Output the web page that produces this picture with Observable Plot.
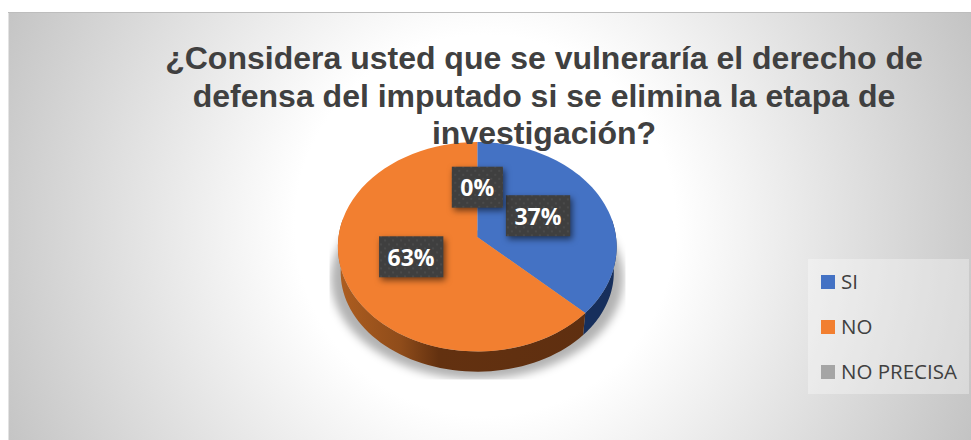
<!DOCTYPE html>
<html lang="es">
<head>
<meta charset="utf-8">
<script src="https://cdn.jsdelivr.net/npm/d3@7"></script>
<script src="https://cdn.jsdelivr.net/npm/@observablehq/plot@0.6"></script>
<style>
html,body{margin:0;padding:0;background:#fff;overflow:hidden}
#wrap{position:relative;width:971px;height:440px}
#wrap svg{display:block;position:absolute;left:0;top:0;background:transparent}
#title{position:absolute;left:144px;width:800px;top:40px;text-align:center;font:700 32px/37.5px "Liberation Sans",Arial,sans-serif;color:#404040;z-index:2}
#legend{position:absolute;left:808px;top:259px;width:161px;height:135px;background:rgba(255,255,255,.33);z-index:2;font:20.5px "Open Sans",sans-serif;color:#404040}
#legend div{position:absolute;left:13px;height:24px;line-height:24px;white-space:nowrap;padding-left:20px}
#legend i{position:absolute;left:0;top:6px;width:14px;height:14px}
</style>
</head>
<body>
<div id="wrap">
<div id="title">¿Considera usted que se vulneraría el derecho de<br>defensa del imputado si se elimina la etapa de<br>investigación?</div>
<div id="legend"></div>
</div>
<script>
const categories = ["SI", "NO", "NO PRECISA"];
const values = [37, 63, 0];
const colors = ["#4472C4", "#F27F30", "#A5A5A5"];
const sideColors = ["#172F5C", "url(#sideOrange)", "#6b6b6b"];
const labelRadius = [0.485, 0.51, 0.485];

const k = 0.0931;
const project = (a, r = 1) => {
  const u = r * Math.sin(a), v = -r * Math.cos(a), s = 1 / (1 - k * v);
  return {x: u * s, y: v * s};
};
const total = d3.sum(values);
let acc = 0;
const slices = categories.map((category, i) => {
  const a0 = acc / total * 2 * Math.PI;
  acc += values[i];
  const a1 = acc / total * 2 * Math.PI;
  return {category, value: values[i], a0, a1, i};
});
const steps = (a0, a1) => d3.range(0, 61).map(j => a0 + (a1 - a0) * j / 60);
const topFace = slices.filter(s => s.value > 0).flatMap(s =>
  [{x: 0, y: 0, category: s.category}, ...steps(s.a0, s.a1).map(a => ({...project(a), category: s.category}))]);
const lower = p => ({x: p.x * 0.98, y: p.y * 0.95 + 0.25});
const sidePoints = s => {
  const a0 = Math.max(s.a0, 80 * Math.PI / 180), a1 = Math.min(s.a1, 280 * Math.PI / 180);
  if (a1 <= a0) return [];
  const upper = steps(a0, a1).map(a => project(a));
  return [...upper, ...upper.slice().reverse().map(lower)];
};
const shadowFace = steps(0, 2 * Math.PI).map(a => {
  const p = project(a);
  return {x: p.x * 1.05, y: p.y * 0.96 + 0.31};
});
const labels = slices.map(s => {
  const mid = s.value > 0 ? (s.a0 + s.a1) / 2 : 2 * Math.PI;
  return {...project(mid, labelRadius[s.i]), text: `${s.value}%`};
});

const chart = Plot.plot({
  width: 971, height: 440,
  marginLeft: 8, marginTop: 12, marginRight: 0, marginBottom: 0,
  style: {background: "transparent", overflow: "visible"},
  x: {domain: [-1, 1], range: [338, 615.5], axis: null},
  y: {domain: [-1, 1], range: [132.7, 340.3], axis: null},
  color: {domain: categories, range: colors},
  marks: [
    Plot.frame({fill: "url(#bg)", stroke: "none"}),
    Plot.frame({anchor: "top", stroke: "#bdbdbd"}),
    Plot.line(shadowFace, {x: "x", y: "y", fill: "#000", fillOpacity: 0.3, stroke: "none", curve: "linear"}),
    slices.map(s => Plot.line(sidePoints(s), {x: "x", y: "y", fill: sideColors[s.i], stroke: "none", curve: "linear"})),
    Plot.line(topFace, {x: "x", y: "y", z: "category", fill: "category", stroke: "none", curve: "linear"}),
    Plot.text(labels, {x: "x", y: "y", text: "text", fill: "#fff", fontSize: 23, fontWeight: 700, fontFamily: "Open Sans"})
  ]
});

const wrap = document.getElementById("wrap");
wrap.insertBefore(chart, wrap.firstChild);
const NS = "http://www.w3.org/2000/svg";
const defs = d3.select(chart).insert("defs", ":first-child");
const bg = defs.append("radialGradient").attr("id", "bg").attr("gradientUnits", "userSpaceOnUse")
  .attr("cx", 485).attr("cy", 225).attr("r", 560);
[[0.34, "#ffffff"], [0.94, "#c4c4c4"], [1, "#bcbcbc"]].forEach(([o, c]) => bg.append("stop").attr("offset", o).attr("stop-color", c));
const so = defs.append("linearGradient").attr("id", "sideOrange").attr("gradientUnits", "userSpaceOnUse")
  .attr("x1", 337).attr("x2", 590).attr("y1", 0).attr("y2", 0);
[[0, "#AE5E20"], [0.25, "#8F4C1A"], [0.4, "#633110"], [1, "#5F2F10"]].forEach(([o, c]) => so.append("stop").attr("offset", o).attr("stop-color", c));
const pat = defs.append("pattern").attr("id", "dots").attr("patternUnits", "userSpaceOnUse").attr("width", 8).attr("height", 8);
pat.append("rect").attr("width", 8).attr("height", 8).attr("fill", "#3f3f3f");
[[2, 2], [6, 6]].forEach(([x, y]) => pat.append("circle").attr("cx", x).attr("cy", y).attr("r", 0.8).attr("fill", "#585858"));
const blur = defs.append("filter").attr("id", "blur").attr("x", "-10%").attr("y", "-10%").attr("width", "120%").attr("height", "120%");
blur.append("feGaussianBlur").attr("stdDeviation", 4);
defs.append("clipPath").attr("id", "shadowClip").append("rect").attr("x", 329).attr("y", 230).attr("width", 296).attr("height", 149);
const sg = d3.select(chart.querySelector('g[aria-label="line"]'));
sg.attr("clip-path", "url(#shadowClip)");
sg.selectAll("path").attr("filter", "url(#blur)");

chart.querySelectorAll('g[aria-label="text"] text').forEach(t => {
  const b = t.getBBox();
  const tr = t.getAttribute("transform");
  const r = document.createElementNS(NS, "rect");
  r.setAttribute("x", b.x - 8.5);
  r.setAttribute("width", b.width + 17);
  r.setAttribute("y", b.y + b.height / 2 - 20.5);
  r.setAttribute("height", 41);
  r.setAttribute("fill", "url(#dots)");
  r.setAttribute("style", "filter:drop-shadow(2px 3px 3px rgba(0,0,0,.55))");
  if (tr) r.setAttribute("transform", tr);
  t.parentNode.insertBefore(r, t);
});

const legend = document.getElementById("legend");
categories.forEach((c, i) => {
  const row = document.createElement("div");
  row.style.top = (9.5 + i * 45) + "px";
  row.textContent = c;
  const sw = document.createElement("i");
  sw.style.background = colors[i];
  row.prepend(sw);
  legend.appendChild(row);
});
</script>
</body>
</html>
